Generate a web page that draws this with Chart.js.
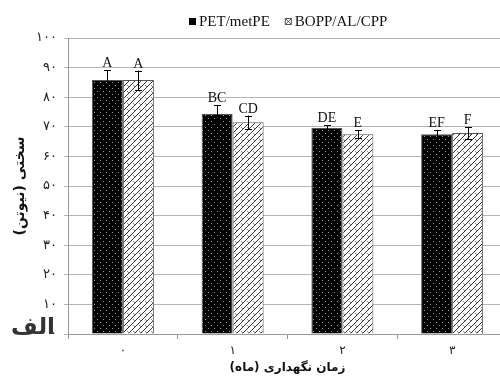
<!DOCTYPE html>
<html>
<head>
<meta charset="utf-8">
<script src="https://cdn.jsdelivr.net/npm/chart.js@4.4.1/dist/chart.umd.min.js"></script>
<style>
  html, body { margin: 0; padding: 0; background: #fff; overflow: hidden; }
  #wrap { width: 500px; height: 381px; overflow: hidden; position: relative; }
  canvas { display: block; }
</style>
</head>
<body>
<div id="wrap"><canvas id="c" width="510" height="381"></canvas></div>
<script>
// Storage time (months) and hardness (N) for the two packaging films
const categories = ['۰', '۱', '۲', '۳'];
const seriesNames = ['PET/metPE', 'BOPP/AL/CPP'];
const petValues = [85.8, 74.3, 69.6, 67.5];
const petErrors = [3.3, 3.1, 1.0, 1.3];
const petLetters = ['A', 'BC', 'DE', 'EF'];
const boppValues = [85.8, 71.5, 67.5, 67.9];
const boppErrors = [3.2, 2.3, 1.4, 2.0];
const boppLetters = ['A', 'CD', 'E', 'F'];
const yTickLabels = ['۰', '۱۰', '۲۰', '۳۰', '۴۰', '۵۰', '۶۰', '۷۰', '۸۰', '۹۰', '۱۰۰'];
const yTitle = 'سختی (نیوتن)';
const xTitle = 'زمان نگهداری (ماه)';
const panelTag = 'الف';

// Fill patterns: black with fine light dots, and white with diagonal weave
function dotPattern(ctx) {
  const t = document.createElement('canvas');
  t.width = 6; t.height = 6;
  const g = t.getContext('2d');
  g.fillStyle = '#000';
  g.fillRect(0, 0, 6, 6);
  g.fillStyle = '#9a9a9a';
  g.fillRect(1, 1, 1, 1);
  g.fillRect(4, 4, 1, 1);
  return ctx.createPattern(t, 'repeat');
}
function hatchPattern(ctx) {
  const t = document.createElement('canvas');
  t.width = 6; t.height = 6;
  const g = t.getContext('2d');
  g.fillStyle = '#fff';
  g.fillRect(0, 0, 6, 6);
  g.strokeStyle = '#333';
  g.lineWidth = 1;
  g.beginPath();
  g.moveTo(-1, 7); g.lineTo(7, -1);
  g.moveTo(-1, 1); g.lineTo(1, -1);
  g.moveTo(5, 7); g.lineTo(7, 5);
  g.stroke();
  g.strokeStyle = '#888';
  g.beginPath();
  g.moveTo(1, 1); g.lineTo(3, 3);
  g.stroke();
  return ctx.createPattern(t, 'repeat');
}

const canvas = document.getElementById('c');
const ctx0 = canvas.getContext('2d');
const fills = [dotPattern(ctx0), hatchPattern(ctx0)];

const errorsBySeries = [petErrors, boppErrors];
const lettersBySeries = [petLetters, boppLetters];

// Error bars and significance letters on top of each bar
const errorBarPlugin = {
  id: 'errorBars',
  afterDatasetsDraw(chart) {
    const ctx = chart.ctx;
    const y = chart.scales.y;
    chart.data.datasets.forEach((ds, i) => {
      const meta = chart.getDatasetMeta(i);
      meta.data.forEach((bar, j) => {
        const v = ds.data[j];
        const e = errorsBySeries[i][j];
        const yTop = y.getPixelForValue(v + e);
        const yBot = y.getPixelForValue(v - e);
        const x = Math.round(bar.x) + 0.5;
        ctx.save();
        ctx.strokeStyle = '#000';
        ctx.lineWidth = 1;
        ctx.beginPath();
        ctx.moveTo(x, yTop); ctx.lineTo(x, yBot);
        ctx.moveTo(x - 3.5, Math.round(yTop) + 0.5); ctx.lineTo(x + 3.5, Math.round(yTop) + 0.5);
        ctx.moveTo(x - 3.5, Math.round(yBot) + 0.5); ctx.lineTo(x + 3.5, Math.round(yBot) + 0.5);
        ctx.stroke();
        ctx.fillStyle = '#111';
        ctx.font = '14px "Liberation Serif", "Times New Roman", serif';
        ctx.textAlign = 'center';
        ctx.textBaseline = 'alphabetic';
        ctx.fillText(lettersBySeries[i][j], bar.x, yTop - 3);
        ctx.restore();
      });
    });
  }
};

// Legend, axis titles and panel tag (right-to-left text)
const decorPlugin = {
  id: 'decor',
  afterDraw(chart) {
    const ctx = chart.ctx;
    const area = chart.chartArea;
    ctx.save();
    // legend
    ctx.font = '15px "Liberation Serif", "Times New Roman", serif';
    ctx.textBaseline = 'middle';
    ctx.textAlign = 'left';
    const legendY = 22;
    let lx = 189;
    seriesNames.forEach((name, i) => {
      if (i === 0) {
        ctx.fillStyle = '#000';
        ctx.fillRect(lx, legendY - 4, 7, 7);
      } else {
        ctx.fillStyle = '#fff';
        ctx.fillRect(lx, legendY - 4, 7, 7);
        ctx.strokeStyle = '#555';
        ctx.lineWidth = 1;
        ctx.strokeRect(lx + 0.5, legendY - 3.5, 6, 6);
        ctx.beginPath();
        ctx.moveTo(lx + 1, legendY - 3); ctx.lineTo(lx + 6, legendY + 2);
        ctx.moveTo(lx + 6, legendY - 3); ctx.lineTo(lx + 1, legendY + 2);
        ctx.stroke();
      }
      ctx.fillStyle = '#111';
      ctx.fillText(name, lx + 10, legendY);
      lx += 10 + ctx.measureText(name).width + 15;
    });
    // axis titles
    ctx.direction = 'rtl';
    ctx.fillStyle = '#111';
    ctx.font = 'bold 12px "DejaVu Sans", sans-serif';
    ctx.textAlign = 'center';
    ctx.textBaseline = 'middle';
    ctx.fillText(xTitle, (area.left + area.right) / 2, 368);
    ctx.save();
    ctx.translate(20, (area.top + area.bottom) / 2);
    ctx.rotate(-Math.PI / 2);
    ctx.font = 'bold 14px "DejaVu Sans", sans-serif';
    ctx.fillText(yTitle, 0, 0);
    ctx.restore();
    ctx.fillStyle = '#333';
    ctx.font = 'bold 23px "DejaVu Sans", sans-serif';
    ctx.fillText(panelTag, 33, 328);
    ctx.restore();
  }
};

new Chart(canvas, {
  type: 'bar',
  data: {
    labels: categories,
    datasets: [
      { label: seriesNames[0], data: petValues, backgroundColor: fills[0], borderColor: '#555', borderWidth: 1 },
      { label: seriesNames[1], data: boppValues, backgroundColor: fills[1], borderColor: '#555', borderWidth: 1 }
    ]
  },
  options: {
    responsive: false,
    animation: false,
    devicePixelRatio: 1,
    layout: { padding: { top: 38, right: 3, left: 0, bottom: 0 } },
    datasets: { bar: { barPercentage: 1.0, categoryPercentage: 0.565 } },
    plugins: { legend: { display: false }, tooltip: { enabled: false } },
    scales: {
      x: {
        grid: { drawOnChartArea: false, drawTicks: true, tickLength: 5, color: '#999', offset: true },
        border: { display: true, color: '#999', width: 1 },
        ticks: { color: '#222', font: { family: '"DejaVu Sans", sans-serif', size: 12 }, padding: 5 },
        afterFit(s) { s.height = 47; }
      },
      y: {
        min: 0, max: 100,
        grid: { color: '#b5b5b5', lineWidth: 1, tickLength: 4 },
        border: { display: true, color: '#999', width: 1 },
        ticks: {
          stepSize: 10,
          color: '#222',
          font: { family: '"DejaVu Sans", sans-serif', size: 13 },
          padding: 7,
          callback: (v, idx) => yTickLabels[idx]
        },
        afterFit(s) { s.width = 68; }
      }
    }
  },
  plugins: [errorBarPlugin, decorPlugin]
});
</script>
</body>
</html>
